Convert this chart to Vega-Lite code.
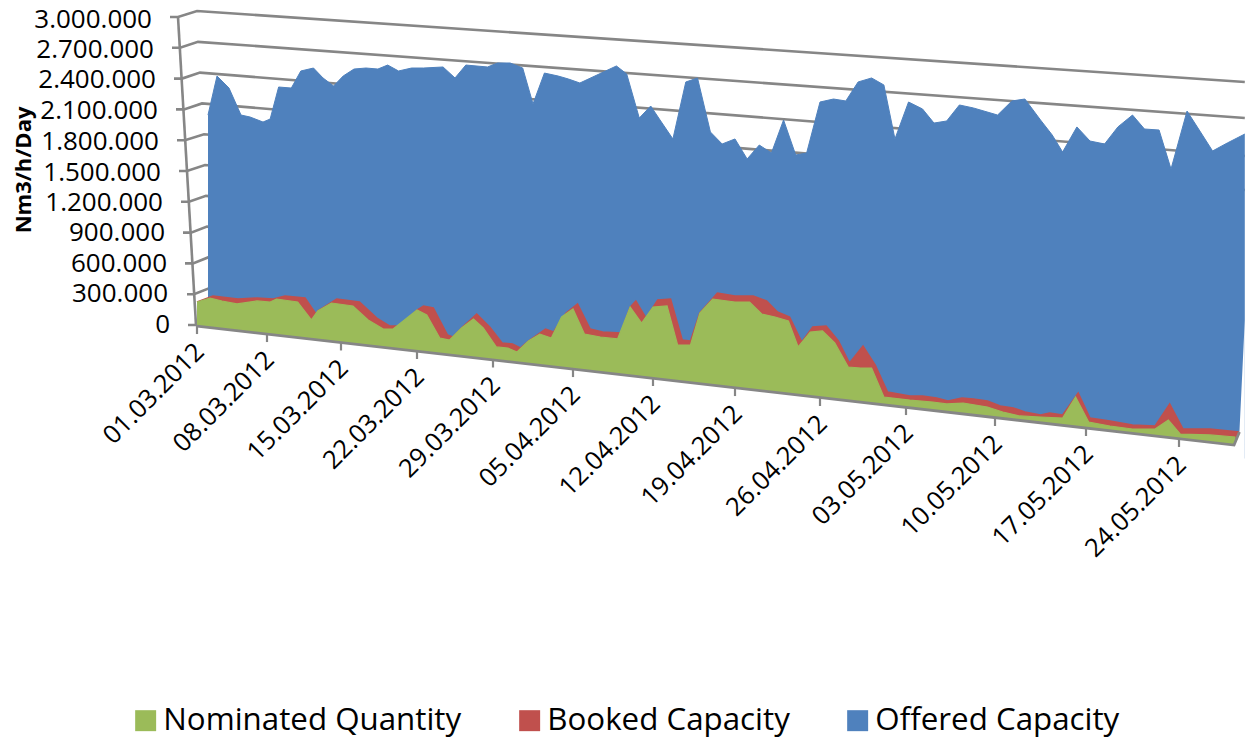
{
"$schema":"https://vega.github.io/schema/vega-lite/v6.json",
"width":1245,"height":738,"autosize":"none","padding":0,"background":"white",
"config":{"view":{"stroke":null}},
"datasets":{
"offered":[{"day":1.1,"k":2045},{"day":2,"k":2425},{"day":3.2,"k":2308},{"day":4.4,"k":2045},{"day":5.3,"k":2026},{"day":6.6,"k":1977},{"day":7.3,"k":2006},{"day":8.1,"k":2318},{"day":9.3,"k":2308},{"day":10.2,"k":2474},{"day":11.4,"k":2503},{"day":12.3,"k":2406},{"day":13.3,"k":2328},{"day":14.2,"k":2425},{"day":15.2,"k":2493},{"day":16.3,"k":2503},{"day":17.4,"k":2493},{"day":18.3,"k":2532},{"day":19.3,"k":2474},{"day":20.5,"k":2503},{"day":21.6,"k":2503},{"day":23.4,"k":2513},{"day":24.5,"k":2406},{"day":25.5,"k":2532},{"day":27.5,"k":2513},{"day":28.4,"k":2552},{"day":29.5,"k":2552},{"day":30.6,"k":2503},{"day":31.5,"k":2153},{"day":32.5,"k":2454},{"day":33.7,"k":2425},{"day":34.6,"k":2396},{"day":35.6,"k":2357},{"day":37.1,"k":2435},{"day":38.8,"k":2523},{"day":39.7,"k":2445},{"day":40.8,"k":2016},{"day":41.8,"k":2133},{"day":42.6,"k":1997},{"day":43.7,"k":1812},{"day":44.8,"k":2367},{"day":45.8,"k":2406},{"day":46.9,"k":1880},{"day":47.9,"k":1763},{"day":49,"k":1812},{"day":50,"k":1617},{"day":51,"k":1753},{"day":52,"k":1675},{"day":53,"k":1997},{"day":54,"k":1656},{"day":54.9,"k":1675},{"day":56,"k":2172},{"day":57.1,"k":2201},{"day":58.1,"k":2182},{"day":59.1,"k":2367},{"day":60.2,"k":2406},{"day":61.2,"k":2338},{"day":62.1,"k":1812},{"day":63.2,"k":2172},{"day":64.3,"k":2104},{"day":65.2,"k":1967},{"day":66.2,"k":1987},{"day":67.2,"k":2143},{"day":68.3,"k":2114},{"day":70.2,"k":2045},{"day":71.3,"k":2182},{"day":72.3,"k":2201},{"day":73.5,"k":1997},{"day":74.4,"k":1851},{"day":75.2,"k":1685},{"day":76.3,"k":1929},{"day":77.3,"k":1792},{"day":78.4,"k":1763},{"day":79.4,"k":1929},{"day":80.5,"k":2045},{"day":81.4,"k":1909},{"day":82.5,"k":1899},{"day":83.4,"k":1519},{"day":84.6,"k":2084},{"day":85.6,"k":1880},{"day":86.5,"k":1695},{"day":87.6,"k":1773},{"day":88.9,"k":1860}],
"booked":[{"day":0,"k":224},{"day":1.6,"k":282},{"day":4.1,"k":253},{"day":6,"k":263},{"day":7.6,"k":253},{"day":8.7,"k":282},{"day":10.6,"k":263},{"day":11.7,"k":97},{"day":11.8,"k":136},{"day":13.6,"k":253},{"day":15.7,"k":224},{"day":17.3,"k":68},{"day":18.5,"k":-10},{"day":19.4,"k":-10},{"day":21,"k":146},{"day":21.6,"k":185},{"day":22.5,"k":166},{"day":23.8,"k":-97},{"day":24.3,"k":-117},{"day":25.1,"k":-29},{"day":26.5,"k":107},{"day":27.7,"k":-19},{"day":28.8,"k":-175},{"day":29.7,"k":-185},{"day":30.4,"k":-224},{"day":31.1,"k":-156},{"day":32.6,"k":-39},{"day":33.3,"k":-68},{"day":34.4,"k":117},{"day":35.4,"k":205},{"day":36.5,"k":-39},{"day":37.6,"k":-68},{"day":39.2,"k":-78},{"day":40,"k":175},{"day":40.5,"k":234},{"day":41.4,"k":68},{"day":42.4,"k":243},{"day":43.5,"k":253},{"day":44.5,"k":-146},{"day":45.2,"k":-156},{"day":46,"k":117},{"day":47.5,"k":312},{"day":49,"k":282},{"day":50.5,"k":282},{"day":51.6,"k":234},{"day":52.5,"k":127},{"day":53.5,"k":78},{"day":54.5,"k":-166},{"day":55.4,"k":-19},{"day":56.5,"k":-10},{"day":57.5,"k":-156},{"day":58.4,"k":-370},{"day":59.5,"k":-205},{"day":60.5,"k":-390},{"day":61.5,"k":-653},{"day":63.3,"k":-692},{"day":64.3,"k":-692},{"day":65.4,"k":-711},{"day":66.3,"k":-740},{"day":67.4,"k":-711},{"day":68.3,"k":-721},{"day":69.4,"k":-740},{"day":70.4,"k":-789},{"day":71.4,"k":-808},{"day":72.3,"k":-847},{"day":73.5,"k":-877},{"day":74.2,"k":-857},{"day":75.2,"k":-877},{"day":76.4,"k":-662},{"day":77.3,"k":-906},{"day":78.8,"k":-935},{"day":80.5,"k":-974},{"day":82.2,"k":-984},{"day":83.3,"k":-769},{"day":84.3,"k":-1013},{"day":86.3,"k":-1013},{"day":88.5,"k":-1042}],
"nominated":[{"day":0,"k":224},{"day":1.3,"k":263},{"day":2.5,"k":234},{"day":4,"k":205},{"day":6,"k":234},{"day":7.3,"k":224},{"day":7.9,"k":253},{"day":9.9,"k":224},{"day":11.2,"k":49},{"day":11.8,"k":136},{"day":13.1,"k":214},{"day":15.1,"k":185},{"day":16.5,"k":49},{"day":17.9,"k":-39},{"day":18.8,"k":-39},{"day":21,"k":146},{"day":21.9,"k":97},{"day":23.1,"k":-127},{"day":24,"k":-146},{"day":25.1,"k":-29},{"day":26.2,"k":58},{"day":27.1,"k":-29},{"day":28.3,"k":-214},{"day":29.3,"k":-224},{"day":30.1,"k":-263},{"day":31.1,"k":-156},{"day":32.1,"k":-88},{"day":33.1,"k":-127},{"day":34,"k":78},{"day":35,"k":156},{"day":36,"k":-88},{"day":37.4,"k":-117},{"day":38.9,"k":-136},{"day":40,"k":175},{"day":41,"k":19},{"day":42,"k":175},{"day":43.2,"k":185},{"day":44.1,"k":-195},{"day":45.2,"k":-195},{"day":46,"k":117},{"day":47.1,"k":253},{"day":49,"k":224},{"day":50.2,"k":224},{"day":51.2,"k":107},{"day":52.3,"k":78},{"day":53.4,"k":39},{"day":54.2,"k":-214},{"day":55.2,"k":-68},{"day":56.2,"k":-58},{"day":57.2,"k":-175},{"day":58.3,"k":-409},{"day":59.3,"k":-419},{"day":60.2,"k":-419},{"day":61.2,"k":-701},{"day":63.3,"k":-731},{"day":65.1,"k":-750},{"day":66.2,"k":-769},{"day":67.5,"k":-760},{"day":69.4,"k":-799},{"day":70.6,"k":-847},{"day":71.9,"k":-886},{"day":73.5,"k":-896},{"day":75.2,"k":-906},{"day":76.2,"k":-701},{"day":77.2,"k":-945},{"day":78.8,"k":-984},{"day":80.5,"k":-1013},{"day":82.2,"k":-1013},{"day":83.2,"k":-925},{"day":84.1,"k":-1062},{"day":86.3,"k":-1071},{"day":88.2,"k":-1091}],
"floorMask":[{"day":0,"k":-10},{"day":88.1,"k":-1169},{"day":88.5,"k":-1042},{"day":88.9,"k":49}],
"floorLine":[{"day":0,"k":-10},{"day":88.1,"k":-1169},{"day":88.5,"k":-1042}],
"wallEdge":[{"day":-1.9,"k":3000},{"day":-0.1,"k":0}],
"dates":[{"label":"01.03.2012","day":0,"k":-10,"tick":-88,"lab":-250},{"label":"08.03.2012","day":7,"k":-88,"tick":-166,"lab":-328},{"label":"15.03.2012","day":14,"k":-170,"tick":-248,"lab":-410},{"label":"22.03.2012","day":21,"k":-253,"tick":-331,"lab":-493},{"label":"29.03.2012","day":28,"k":-336,"tick":-414,"lab":-576},{"label":"05.04.2012","day":35,"k":-429,"tick":-507,"lab":-669},{"label":"12.04.2012","day":42,"k":-516,"tick":-594,"lab":-756},{"label":"19.04.2012","day":49,"k":-614,"tick":-692,"lab":-854},{"label":"26.04.2012","day":56,"k":-711,"tick":-789,"lab":-951},{"label":"03.05.2012","day":63,"k":-799,"tick":-877,"lab":-1039},{"label":"10.05.2012","day":70,"k":-906,"tick":-984,"lab":-1146},{"label":"17.05.2012","day":77,"k":-1003,"tick":-1081,"lab":-1243},{"label":"24.05.2012","day":84,"k":-1110,"tick":-1188,"lab":-1350}],
"yLabels":[{"label":"3.000.000","k":2971,"day":-4.5},{"label":"2.700.000","k":2678,"day":-4.3},{"label":"2.400.000","k":2386,"day":-4.1},{"label":"2.100.000","k":2084,"day":-3.9},{"label":"1.800.000","k":1782,"day":-3.8},{"label":"1.500.000","k":1480,"day":-3.6},{"label":"1.200.000","k":1188,"day":-3.4},{"label":"900.000","k":896,"day":-3.2},{"label":"600.000","k":594,"day":-3},{"label":"300.000","k":302,"day":-2.9},{"label":"0","k":0,"day":-2.7}],
"title":[{"label":"Nm3/h/Day","k":1510,"day":-17.3}],
"grid":[
{"lvl":10,"day":-2.7,"k":3000},{"lvl":10,"day":-1.9,"k":3000},{"lvl":10,"day":0,"k":3058},{"lvl":10,"day":88.9,"k":2367},
{"lvl":9,"day":-2.5,"k":2700},{"lvl":9,"day":-1.7,"k":2700},{"lvl":9,"day":0.1,"k":2758},{"lvl":9,"day":88.9,"k":2016},
{"lvl":8,"day":-2.3,"k":2400},{"lvl":8,"day":-1.5,"k":2400},{"lvl":8,"day":0.3,"k":2458},{"lvl":8,"day":88.9,"k":1646},
{"lvl":7,"day":-2.1,"k":2100},{"lvl":7,"day":-1.3,"k":2100},{"lvl":7,"day":0.5,"k":2158},{"lvl":7,"day":88.9,"k":1315},
{"lvl":6,"day":-2,"k":1800},{"lvl":6,"day":-1.2,"k":1800},{"lvl":6,"day":0.7,"k":1858},{"lvl":6,"day":3,"k":1840},
{"lvl":5,"day":-1.8,"k":1500},{"lvl":5,"day":-1,"k":1500},{"lvl":5,"day":0.8,"k":1558},{"lvl":5,"day":3,"k":1540},
{"lvl":4,"day":-1.6,"k":1200},{"lvl":4,"day":-0.8,"k":1200},{"lvl":4,"day":0.9,"k":1258},{"lvl":4,"day":3,"k":1240},
{"lvl":3,"day":-1.4,"k":900},{"lvl":3,"day":-0.6,"k":900},{"lvl":3,"day":1,"k":958},{"lvl":3,"day":3,"k":940},
{"lvl":2,"day":-1.2,"k":600},{"lvl":2,"day":-0.4,"k":600},{"lvl":2,"day":1.1,"k":658},{"lvl":2,"day":3,"k":640},
{"lvl":1,"day":-1,"k":300},{"lvl":1,"day":-0.3,"k":300},{"lvl":1,"day":1.2,"k":358},{"lvl":1,"day":3,"k":340},
{"lvl":0,"day":-0.9,"k":0},{"lvl":0,"day":-0.1,"k":0},{"lvl":0,"day":1.4,"k":58},{"lvl":0,"day":3,"k":40}
]},
"encoding":{
"x":{"field":"day","type":"quantitative","axis":null,"scale":{"zero":false,"nice":false,"domain":[-19.7,0,7,14,21,28,35,42,49,56,63,70,77,84,91],"range":[0,197,267,341,417,493,573,653,735,820,906,995,1086,1179,1273]}},
"y":{"field":"k","type":"quantitative","axis":null,"scale":{"zero":false,"nice":false,"domain":[-4022.6,3165.5]}}
},
"layer":[
{"data":{"name":"grid"},"mark":{"type":"line","color":"#868686","strokeWidth":2.6},"encoding":{"detail":{"field":"lvl"}}},
{"data":{"name":"wallEdge"},"mark":{"type":"line","color":"#868686","strokeWidth":2.6},"encoding":{}},
{"data":{"name":"offered"},"mark":{"type":"area","opacity":1,"line":{"color":"#41699A","strokeWidth":1,"opacity":1}},"encoding":{"y2":{"datum":-1300},"color":{"datum":"Offered Capacity","type":"nominal","scale":{"domain":["Nominated Quantity","Booked Capacity","Offered Capacity"],"range":["#9BBB59","#C0504D","#4F81BD"]},"legend":{"orient":"none","legendX":130,"legendY":705,"direction":"horizontal","columns":3,"title":null,"symbolType":"square","symbolSize":440,"symbolStrokeWidth":0,"symbolOpacity":1,"labelFontSize":31.3,"labelFont":"Open Sans","labelColor":"#000000","labelOffset":2,"columnPadding":52,"labelLimit":400}}}},
{"data":{"name":"booked"},"mark":{"type":"area","opacity":1,"line":{"color":"#A84543","strokeWidth":1.5,"opacity":1}},"encoding":{"y2":{"datum":-1300},"color":{"datum":"Booked Capacity","type":"nominal"}}},
{"data":{"name":"nominated"},"mark":{"type":"area","opacity":1,"line":{"color":"#7F9A4A","strokeWidth":1.2,"opacity":1}},"encoding":{"y2":{"datum":-1300},"color":{"datum":"Nominated Quantity","type":"nominal"}}},
{"data":{"name":"floorMask"},"mark":{"type":"area","color":"white","opacity":1},"encoding":{"y2":{"datum":-1400}}},
{"data":{"name":"floorLine"},"mark":{"type":"line","color":"#868686","strokeWidth":2.8},"encoding":{}},
{"data":{"name":"dates"},"mark":{"type":"rule","color":"#868686","strokeWidth":2.2},"encoding":{"y":{"field":"k","type":"quantitative"},"y2":{"field":"tick"}}},
{"data":{"name":"dates"},"mark":{"type":"text","align":"right","baseline":"middle","angle":-45,"dx":4,"font":"Open Sans","fontSize":25.5,"color":"#000000"},"encoding":{"y":{"field":"lab","type":"quantitative"},"text":{"field":"label"}}},
{"data":{"name":"yLabels"},"mark":{"type":"text","align":"right","baseline":"middle","font":"Open Sans","fontSize":26,"color":"#000000"},"encoding":{"text":{"field":"label"}}},
{"data":{"name":"title"},"mark":{"type":"text","align":"center","baseline":"middle","angle":270,"font":"Open Sans","fontWeight":"bold","fontSize":22,"color":"#000000"},"encoding":{"text":{"field":"label"}}}
]
}
